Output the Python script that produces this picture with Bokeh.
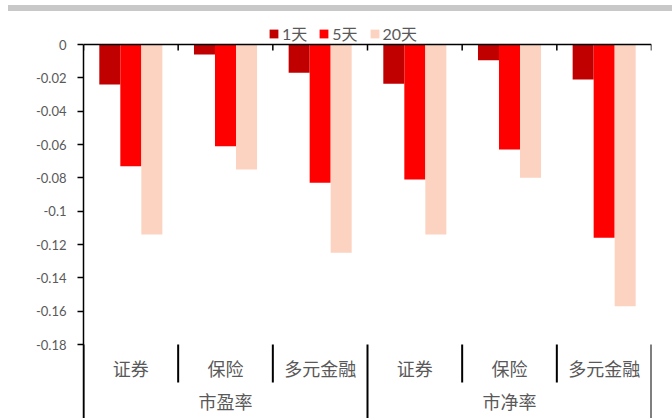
from bokeh.plotting import figure
from bokeh.models import (FactorRange, ColumnDataSource, Range1d, FixedTicker,
                          CustomJSTickFormatter, Span, Legend, LegendItem, Div)
from bokeh.layouts import column
from bokeh.transform import dodge
from bokeh.embed import file_html
from bokeh.resources import INLINE

# ---- data ----
groups = ["市盈率", "市净率"]
categories = ["证券", "保险", "多元金融"]
series = ["1天", "5天", "20天"]
day1 = [-0.024, -0.006, -0.017, -0.0235, -0.0095, -0.021]
day5 = [-0.073, -0.061, -0.083, -0.081, -0.063, -0.116]
day20 = [-0.114, -0.075, -0.125, -0.114, -0.080, -0.157]
y_ticks = [0, -0.02, -0.04, -0.06, -0.08, -0.10, -0.12, -0.14, -0.16, -0.18]

colors = ["#C00000", "#FF0000", "#FBD3C0"]
GRAY = "#595959"
CJK = "Noto Sans CJK SC"
LAT = "Lato, Noto Sans CJK SC"

factors = [(g, c) for g in groups for c in categories]
src = ColumnDataSource(dict(x=factors, d1=day1, d5=day5, d20=day20))

Y_TOP = 0.0144
Y_BOT = -0.2244

p = figure(x_range=FactorRange(*factors, factor_padding=0, group_padding=0,
                               subgroup_padding=0, range_padding=0),
           y_range=Range1d(Y_BOT, Y_TOP),
           width=672, height=407, output_backend="svg", toolbar_location=None,
           min_border_left=83, min_border_right=21, min_border_top=9,
           min_border_bottom=0)
p.outline_line_color = None
p.xgrid.visible = False
p.ygrid.visible = False
p.background_fill_color = "white"
p.border_fill_color = "white"

bw = 0.222
offsets = [-bw, 0, bw]
renderers = []
for col, off, c in zip(["d1", "d5", "d20"], offsets, colors):
    r = p.vbar(x=dodge("x", off, range=p.x_range), top=col, bottom=0, width=bw,
               source=src, fill_color=c, line_color=None)
    renderers.append(r)

# zero line
p.add_layout(Span(location=0, dimension="width", line_color="black", line_width=1.5))

# boundaries between categories
long_x, short_x = [], []
for i, f in enumerate(factors):
    if i == 0 or f[0] != factors[i - 1][0]:
        long_x.append((f[0], f[1], -0.5))
    else:
        short_x.append((f[0], f[1], -0.5))
long_x.append((factors[-1][0], factors[-1][1], 0.5))
all_x = long_x + short_x

lowest = y_ticks[-1]
p.segment(x0=long_x, x1=long_x, y0=[lowest] * len(long_x), y1=[Y_BOT] * len(long_x),
          line_color="black", line_width=2)
p.segment(x0=short_x, x1=short_x, y0=[lowest] * len(short_x), y1=[-0.2028] * len(short_x),
          line_color="black", line_width=2)
p.segment(x0=all_x, x1=all_x, y0=[0] * len(all_x), y1=[-0.0036] * len(all_x),
          line_color="black", line_width=1.5)

# y axis
ya = p.yaxis[0]
ya.ticker = FixedTicker(ticks=y_ticks)
ya.formatter = CustomJSTickFormatter(
    code="var s = tick.toFixed(2); s = s.replace(/0+$/, '').replace(/\\.$/, ''); return s == '-0' ? '0' : s;")
ya.bounds = (Y_BOT, 0)
ya.axis_line_color = "black"
ya.axis_line_width = 1.5
ya.major_tick_line_color = "black"
ya.major_tick_line_width = 1.5
ya.major_tick_out = 6
ya.major_tick_in = 0
ya.minor_tick_line_color = None
ya.major_label_standoff = 11
ya.major_label_text_font = LAT
ya.major_label_text_font_size = "13px"
ya.major_label_text_color = GRAY

# x axis (categorical, placed at the lowest tick)
xa = p.xaxis[0]
xa.fixed_location = lowest
xa.axis_line_color = None
xa.major_tick_line_color = None
xa.minor_tick_line_color = None
xa.separator_line_color = None
xa.major_label_standoff = 4
xa.major_label_text_font = CJK
xa.major_label_text_font_size = "18px"
xa.major_label_text_color = GRAY
xa.major_label_text_line_height = 1.6
xa.group_text_font = CJK
xa.group_text_font_size = "18px"
xa.group_text_font_style = "normal"
xa.group_text_line_height = 1.6
xa.group_text_color = GRAY

legend = Legend(items=[LegendItem(label=s, renderers=[r]) for s, r in zip(series, renderers)],
                orientation="horizontal", location=(185, 373))
legend.border_line_color = None
legend.background_fill_alpha = 0
legend.label_text_color = GRAY
legend.label_text_font = LAT
legend.label_text_font_size = "16px"
legend.glyph_width = 11
legend.glyph_height = 11
legend.label_standoff = 3
legend.spacing = 11
legend.padding = 0
legend.margin = 0
legend.label_height = 16
legend.label_width = 10
p.add_layout(legend, "center")

band = Div(text="", width=664, height=6, margin=(5, 0, 0, 8),
           styles={"background-color": "#c8c8c8"})
layout = column(band, p, spacing=0)

open("out.html", "w").write(file_html(layout, INLINE))
